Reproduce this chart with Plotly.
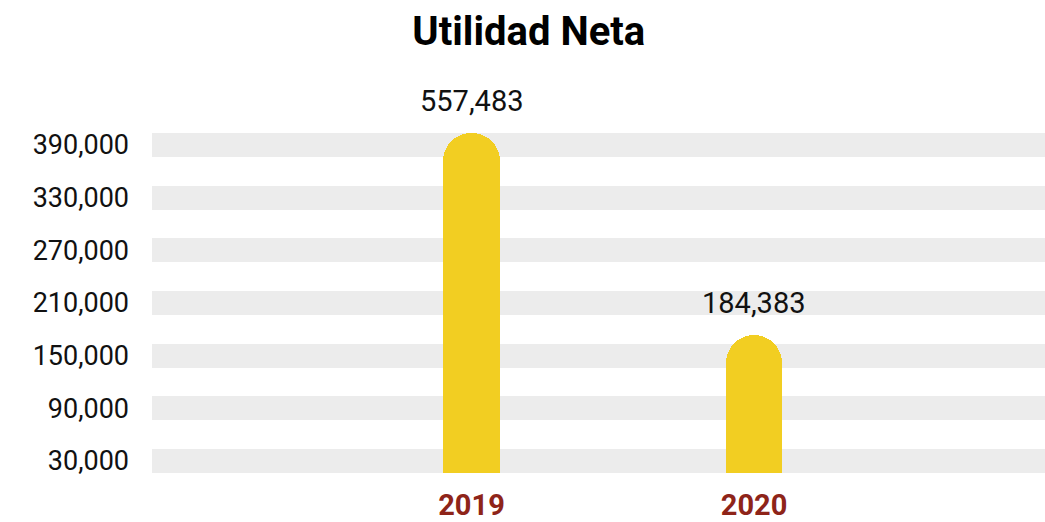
import plotly.graph_objects as go

# Data
years = ["2019", "2020"]
bar_heights = [403000, 173000]          # drawn heights
value_labels = [557483, 184383]         # labels printed above the bars
y_ticks = [30000, 90000, 150000, 210000, 270000, 330000, 390000]

BAR_COLOR = "#F2CE22"
BAND_COLOR = "#ECECEC"
YEAR_COLOR = "#8E2419"
FONT = "Roboto"

fig = go.Figure()
fig.add_trace(go.Bar(
    x=years,
    y=bar_heights,
    width=0.2,
    marker=dict(color=BAR_COLOR, cornerradius="50%", line=dict(width=0)),
    hoverinfo="skip",
    cliponaxis=True,
))

for i, (h, v) in enumerate(zip(bar_heights, value_labels)):
    fig.add_annotation(
        xref="x", yref="y", x=i, y=h, text=f"{v:,}", showarrow=False,
        yanchor="bottom", xanchor="center", yshift=13,
        font=dict(family=FONT, size=29, color="#111111"),
    )

fig.update_layout(
    width=1045, height=522,
    margin=dict(l=152, r=0, t=120, b=49, autoexpand=False),
    paper_bgcolor="white", plot_bgcolor="white",
    showlegend=False,
    title=dict(
        text="<b>Utilidad Neta</b>", x=0.506, xanchor="center",
        y=0.94, yanchor="middle", yref="container",
        font=dict(family=FONT, size=40, color="#000000"),
    ),
    bargap=0,
)

fig.update_xaxes(
    type="category", automargin=False,
    range=[-1.131, 2.03],
    showgrid=False, zeroline=False, showline=False,
    ticks="", ticklabelstandoff=12,
    tickfont=dict(family=FONT, size=29, color=YEAR_COLOR, weight="bold"),
)

fig.update_yaxes(
    automargin=False,
    range=[16338, 418228],
    tickvals=y_ticks,
    ticktext=[f"{t:,}" for t in y_ticks],
    showgrid=True, gridcolor=BAND_COLOR, gridwidth=24,
    zeroline=False, showline=False,
    ticks="", ticklabelstandoff=22,
    tickfont=dict(family=FONT, size=27, color="#111111"),
)

fig.write_html(
    "out.html",
    config={"displayModeBar": False},
    post_script="document.body.style.margin='0';document.body.style.overflow='hidden';",
)
